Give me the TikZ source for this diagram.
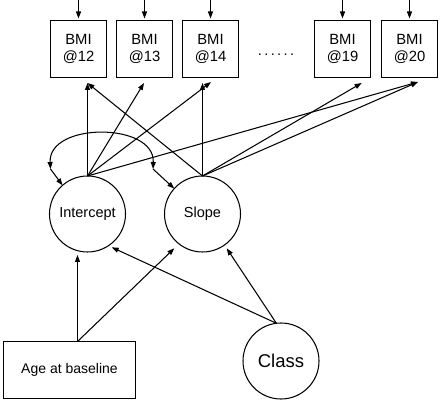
\documentclass[tikz,border=0pt]{standalone}
\usepackage{fontspec}
\setmainfont{Liberation Sans}
\usetikzlibrary{arrows.meta}
\begin{document}
\begin{tikzpicture}[x=1pt,y=-1pt,
  every node/.style={inner sep=0pt, outer sep=0pt},
  ln/.style={line width=1.05pt},
  arr/.style={ln, -{Triangle[length=7pt,width=5pt]}},
  darr/.style={ln, {Triangle[length=7pt,width=5pt]}-{Triangle[length=7pt,width=5pt]}},
  bmi/.style={draw, line width=1.05pt, minimum width=56pt, minimum height=57pt,
    align=center, font=\fontsize{14.8}{17}\selectfont},
  lat/.style={draw, circle, line width=1.05pt, minimum size=76pt,
    font=\fontsize{14.5}{17}\selectfont},
  cov/.style={draw, line width=1.05pt, minimum width=132pt, minimum height=57pt,
    font=\fontsize{14}{17}\selectfont}]
\useasboundingbox (0,0) rectangle (440,401);
% observed BMI boxes
\node[bmi] (b12) at (78.5,49) {BMI\\@12};
\node[bmi] (b13) at (144.5,49) {BMI\\@13};
\node[bmi] (b14) at (210.5,49) {BMI\\@14};
\node[bmi] (b19) at (342.5,49) {BMI\\@19};
\node[bmi] (b20) at (409.5,49) {BMI\\@20};
\node[anchor=base, font=\fontsize{14.5}{17}\selectfont] (dots) at (276,55.5)
  {.\kern2.4pt.\kern2.4pt.\kern2.4pt.\kern2.4pt.\kern2.4pt.};
% latent variables and covariates
\node[lat] (int) at (87.5,214) {Intercept};
\node[lat] (slope) at (202.5,214) {Slope};
\node[lat, font=\fontsize{18.5}{20}\selectfont] (class) at (281,361) {Class};
\node[cov] (age) at (69.5,370) {Age at baseline};
% residual inputs
\foreach \b in {b12,b13,b14,b19,b20}{
  \coordinate (in-\b) at (\b.north |- 0,0);
  \draw[arr, shorten >=2pt] (in-\b) -- (\b.north);
}
% arrow tips under boxes
\coordinate (t12) at (87.5,83);
\coordinate (t13) at (144,83);
\coordinate (t14a) at (211,82);
\coordinate (t14b) at (202.5,83);
\coordinate (t19) at (361.7,83);
\coordinate (t20) at (418,82);
% loadings
\draw[arr] (int.north) -- (t12);
\draw[arr] (int.north) -- (t13);
\draw[arr] (int.north) -- (t14a);
\draw[arr] (int.north) -- (t20);
\draw[arr] (slope.north) -- (t12);
\draw[arr] (slope.north) -- (t14b);
\draw[arr] (slope.north) -- (t19);
\draw[arr] (slope.north) -- (t20);
% covariance
\coordinate (c1) at (50.5,169);
\coordinate (c2) at (153,169);
\draw[darr] (c1) .. controls (48,122) and (155,122) .. (c2);
\draw[arr] (c1) -- (int.131);
\draw[arr] (c2) -- (slope.138);
% covariate effects
\coordinate (a0) at ([xshift=8pt]age.north);
\coordinate (ai) at (77.5,255);
\coordinate (as) at (174.3,248.3);
\draw[arr] (a0) -- (ai);
\draw[arr] (a0) -- (as);
\coordinate (ci) at (111.7,247.3);
\coordinate (cs) at (226.7,248.3);
\draw[arr] (class.97) -- (ci);
\draw[arr] (class.97) -- (cs);
\end{tikzpicture}
\end{document}
